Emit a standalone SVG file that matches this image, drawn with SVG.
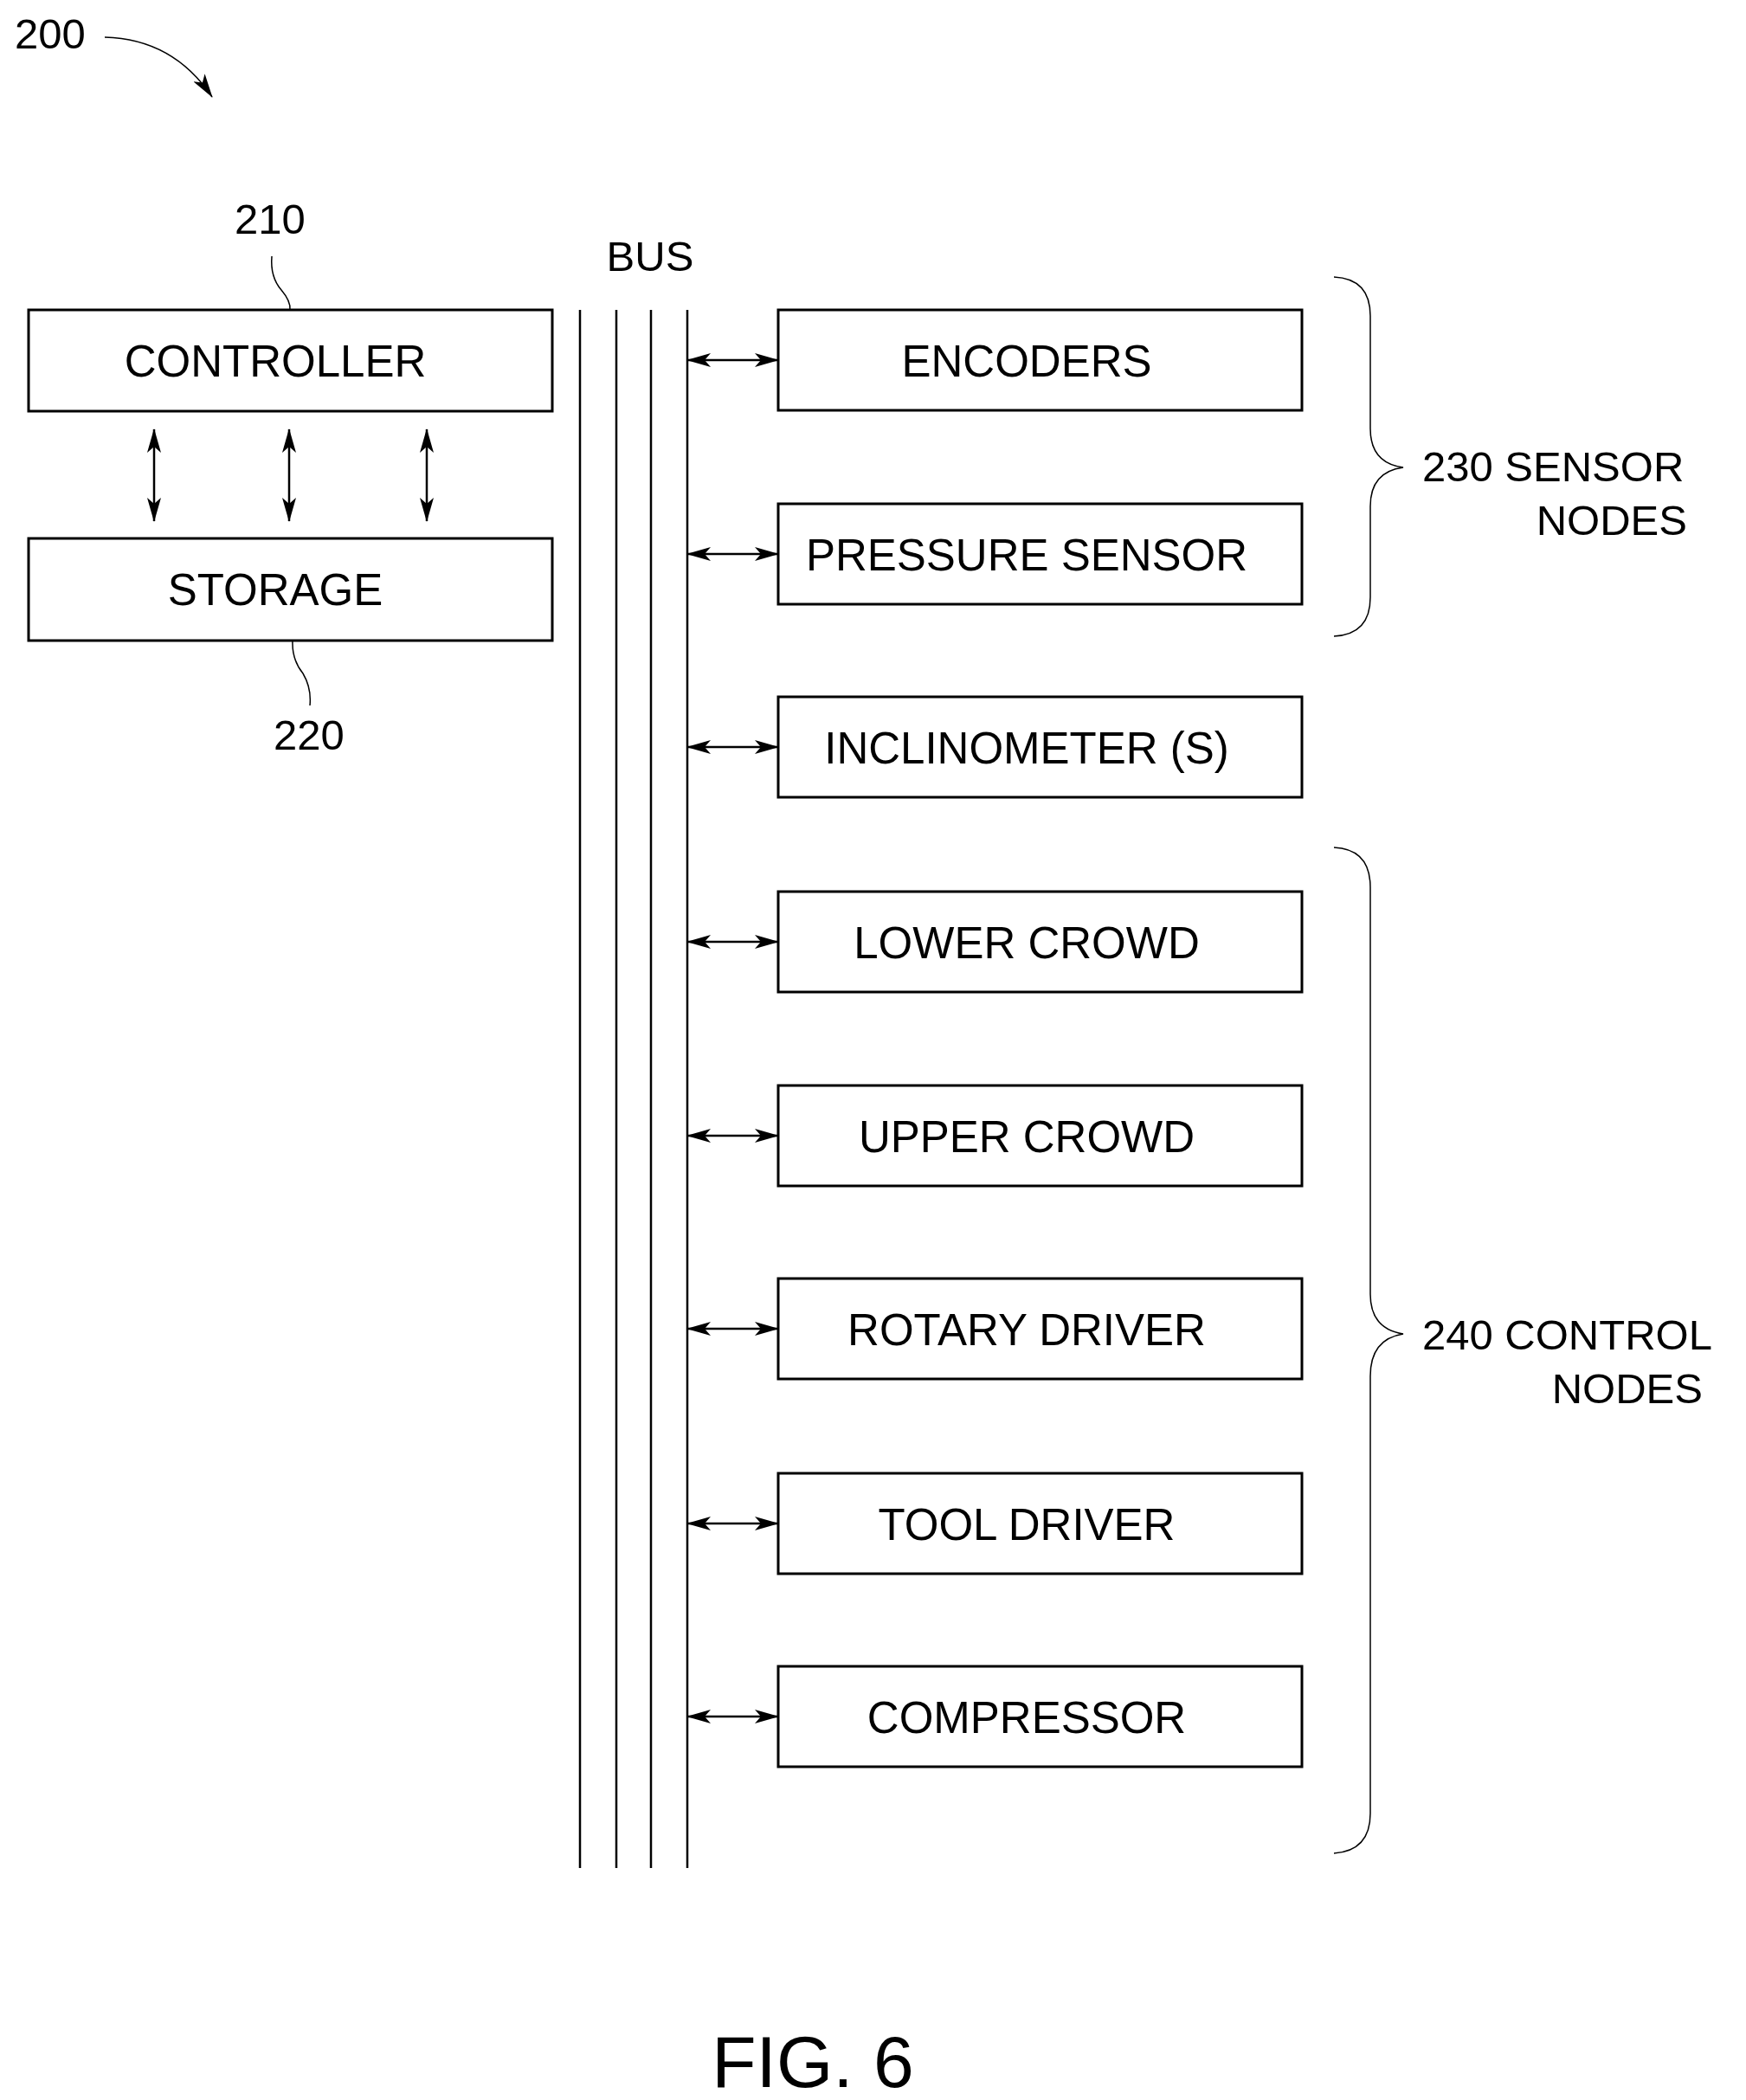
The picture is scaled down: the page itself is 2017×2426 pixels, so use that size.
<svg xmlns="http://www.w3.org/2000/svg" width="2017" height="2426" viewBox="0 0 2017 2426">
<defs>
<marker id="a" viewBox="0 0 28 16" refX="27" refY="8" markerWidth="28" markerHeight="16" markerUnits="userSpaceOnUse" orient="auto-start-reverse"><path d="M0,0 L28,8 L0,16 L7,8 Z" fill="#000"/></marker>
<style>
text{font-family:"Liberation Sans",Arial,sans-serif;fill:#000}
.t{font-size:51px;text-anchor:middle}
.l{font-size:49px}
rect{fill:#fff;stroke:#000;stroke-width:3}
.c{fill:none;stroke:#000;stroke-width:2.5}
.thin{fill:none;stroke:#000;stroke-width:1.5}
</style>
</defs>
<rect x="0" y="0" width="2017" height="2426" style="stroke:none"/>
<text class="l" x="17" y="56">200</text>
<path class="thin" d="M121,43 Q200,45 245,112" marker-end="url(#a)"/>
<text class="l" x="312" y="270" text-anchor="middle">210</text>
<path class="thin" d="M314,296 Q312,320 325,335 Q336,348 335,358"/>
<text class="l" x="357" y="866" text-anchor="middle">220</text>
<path class="thin" d="M338,740 Q337,762 350,778 Q360,795 358,815"/>
<text class="l" x="751" y="313" text-anchor="middle">BUS</text>
<g id="controller"><rect x="33" y="358" width="605" height="117"/><text class="t" x="318" y="435">CONTROLLER</text></g>
<g id="storage"><rect x="33" y="622" width="605" height="118"/><text class="t" x="318" y="699">STORAGE</text></g>
<g id="bus"><path class="c" d="M670,358V2158M712,358V2158M752,358V2158M794,358V2158"/></g>
<g id="encoders"><rect x="899" y="358" width="605" height="116"/><text class="t" x="1186" y="435">ENCODERS</text></g>
<g id="pressure"><rect x="899" y="582" width="605" height="116"/><text class="t" x="1186" y="659">PRESSURE SENSOR</text></g>
<g id="inclinometer"><rect x="899" y="805" width="605" height="116"/><text class="t" x="1186" y="882">INCLINOMETER (S)</text></g>
<g id="lowercrowd"><rect x="899" y="1030" width="605" height="116"/><text class="t" x="1186" y="1107">LOWER CROWD</text></g>
<g id="uppercrowd"><rect x="899" y="1254" width="605" height="116"/><text class="t" x="1186" y="1331">UPPER CROWD</text></g>
<g id="rotary"><rect x="899" y="1477" width="605" height="116"/><text class="t" x="1186" y="1554">ROTARY DRIVER</text></g>
<g id="tooldriver"><rect x="899" y="1702" width="605" height="116"/><text class="t" x="1186" y="1779">TOOL DRIVER</text></g>
<g id="compressor"><rect x="899" y="1925" width="605" height="116"/><text class="t" x="1186" y="2002">COMPRESSOR</text></g>
<g id="connectors">
<path class="c" d="M178,496V602" marker-start="url(#a)" marker-end="url(#a)"/>
<path class="c" d="M334,496V602" marker-start="url(#a)" marker-end="url(#a)"/>
<path class="c" d="M493,496V602" marker-start="url(#a)" marker-end="url(#a)"/>
<path class="c" d="M794,416H899" marker-start="url(#a)" marker-end="url(#a)"/>
<path class="c" d="M794,640H899" marker-start="url(#a)" marker-end="url(#a)"/>
<path class="c" d="M794,863H899" marker-start="url(#a)" marker-end="url(#a)"/>
<path class="c" d="M794,1088H899" marker-start="url(#a)" marker-end="url(#a)"/>
<path class="c" d="M794,1312H899" marker-start="url(#a)" marker-end="url(#a)"/>
<path class="c" d="M794,1535H899" marker-start="url(#a)" marker-end="url(#a)"/>
<path class="c" d="M794,1760H899" marker-start="url(#a)" marker-end="url(#a)"/>
<path class="c" d="M794,1983H899" marker-start="url(#a)" marker-end="url(#a)"/>
</g>
<g id="sensor-nodes">
<path class="thin" d="M1541,320 Q1583,322 1583,365 L1583,495 Q1583,535 1621,540 Q1583,545 1583,585 L1583,690 Q1583,733 1541,735"/>
<text class="l" x="1643" y="556">230 SENSOR</text>
<text class="l" x="1949" y="618" text-anchor="end">NODES</text>
</g>
<g id="control-nodes">
<path class="thin" d="M1541,979 Q1583,981 1583,1025 L1583,1495 Q1583,1535 1621,1541 Q1583,1547 1583,1590 L1583,2095 Q1583,2138 1541,2141"/>
<text class="l" x="1643" y="1559">240 CONTROL</text>
<text class="l" x="1967" y="1621" text-anchor="end">NODES</text>
</g>
<text x="939" y="2411" text-anchor="middle" style="font-size:84px">FIG. 6</text>
</svg>
